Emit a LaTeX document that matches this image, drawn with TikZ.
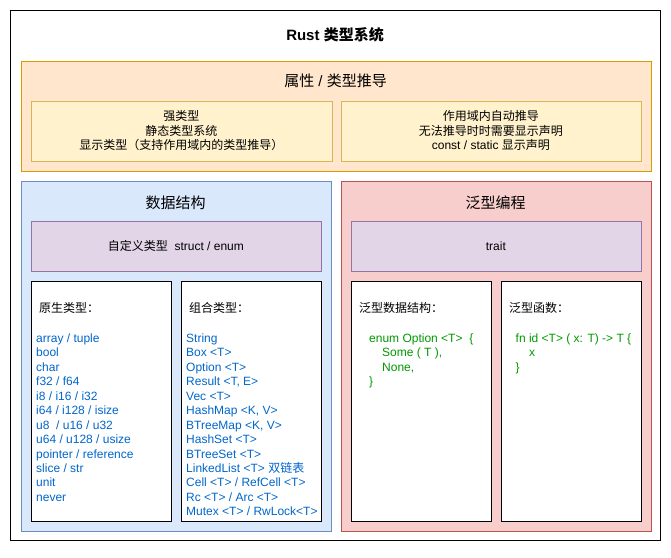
\documentclass[tikz,border=0pt]{standalone}
\usepackage{fontspec}
\setmainfont{Liberation Sans}
\newfontfamily\cjk{Noto Sans CJK SC}
\newcommand{\zh}[1]{{\cjk #1}}
\usetikzlibrary{positioning}
\definecolor{attrfill}{HTML}{FFE6CC}
\definecolor{attrline}{HTML}{D79B00}
\definecolor{notefill}{HTML}{FFF2CC}
\definecolor{noteline}{HTML}{D6B656}
\definecolor{datafill}{HTML}{DAE8FC}
\definecolor{dataline}{HTML}{6C8EBF}
\definecolor{genfill}{HTML}{F8CECC}
\definecolor{genline}{HTML}{B85450}
\definecolor{kindfill}{HTML}{E1D5E7}
\definecolor{kindline}{HTML}{9673A6}
\definecolor{typeblue}{HTML}{0066CC}
\definecolor{codegreen}{HTML}{009900}
\tikzset{box/.style={draw,rectangle,inner sep=0pt,anchor=north west,line width=0.8pt}}
\tikzset{txt/.style={inner sep=0pt,font=\fontsize{12}{14.45}\selectfont}}
\tikzset{head/.style={inner sep=0pt,font=\fontsize{15}{18}\selectfont}}
\tikzset{list/.style={txt,align=left,anchor=north west,text=typeblue}}
\tikzset{code/.style={txt,align=left,anchor=north west,text=codegreen}}

\begin{document}
\begin{tikzpicture}[x=1pt,y=-1pt]
\useasboundingbox (0,0) rectangle (671,557);

\node[box,line width=1pt,minimum width=650pt,minimum height=530pt] (frame) at (10,10) {};
\node[head,font=\bfseries\fontsize{15}{18}\selectfont] (title) at (335,34.5) {Rust \zh{类型系统}};

% attributes
\node[box,fill=attrfill,draw=attrline,minimum width=630pt,minimum height=110pt] (attr) at (20.5,60.5) {};
\node[head] (attrtitle) at (335.5,81) {\zh{属性} / \zh{类型推导}};
\node[box,fill=notefill,draw=noteline,minimum width=301pt,minimum height=60pt] (strong) at (30.5,100.5) {};
\node[box,fill=notefill,draw=noteline,minimum width=300pt,minimum height=60pt] (infer) at (340.5,100.5) {};
\node[txt,align=center] (strongtxt) at (strong.center) {\zh{强类型}\\\zh{静态类型系统}\\\zh{显示类型（支持作用域内的类型推导）}};
\node[txt,align=center] (infertxt) at (infer.center) {\zh{作用域内自动推导}\\\zh{无法推导时时需要显示声明}\\const / static \zh{显示声明}};

% data structures
\node[box,fill=datafill,draw=dataline,minimum width=310pt,minimum height=350pt] (data) at (20.5,180.5) {};
\node[head] (datatitle) at (175.5,203) {\zh{数据结构}};
\node[box,fill=kindfill,draw=kindline,minimum width=290pt,minimum height=50pt] (custom) at (30.5,220.5) {};
\node[txt] (customtxt) at (custom.center) {\zh{自定义类型}\ \ struct / enum};
\node[box,fill=white,draw=black,minimum width=140pt,minimum height=240pt] (prim) at (30.5,280.5) {};
\node[box,fill=white,draw=black,minimum width=140pt,minimum height=240pt] (comp) at (180.5,280.5) {};
\node[txt,anchor=west] (primtitle) at (39,308) {\zh{原生类型：}};
\node[txt,anchor=west] (comptitle) at (189,308) {\zh{组合类型：}};
\node[list] (primlist) at (36,333.5) {array / tuple\\bool\\char\\f32 / f64\\i8 / i16 / i32\\i64 / i128 / isize\\u8\ \ / u16 / u32\\u64 / u128 / usize\\pointer / reference\\slice / str\\unit\\never};
\node[list] (complist) at (186,333.5) {String\\Box <T>\\Option <T>\\Result <T, E>\\Vec <T>\\HashMap <K, V>\\BTreeMap <K, V>\\HashSet <T>\\BTreeSet <T>\\LinkedList <T> \zh{双链表}\\Cell <T> / RefCell <T>\\Rc <T> / Arc <T>\\Mutex <T> / RwLock<T>};

% generics
\node[box,fill=genfill,draw=genline,minimum width=310pt,minimum height=350pt] (gen) at (340.5,180.5) {};
\node[head] (gentitle) at (495.5,203) {\zh{泛型编程}};
\node[box,fill=kindfill,draw=kindline,minimum width=290pt,minimum height=50pt] (trait) at (350.5,220.5) {};
\node[txt] (traittxt) at (trait.center) {trait};
\node[box,fill=white,draw=black,minimum width=140pt,minimum height=240pt] (gdata) at (350.5,280.5) {};
\node[box,fill=white,draw=black,minimum width=140pt,minimum height=240pt] (gfunc) at (500.5,280.5) {};
\node[txt,anchor=west] (gdatatitle) at (359,307.5) {\zh{泛型数据结构：}};
\node[txt,anchor=west] (gfunctitle) at (509,307.5) {\zh{泛型函数：}};
\node[code] (gdatacode) at (369,333.5) {enum Option <T>\ \ \{\\\hspace*{13pt}Some ( T ),\\\hspace*{13pt}None,\\\}};
\node[code] (gfunccode) at (515.5,333.5) {fn id <T> ( x: T) -> T \{\\\hspace*{13.5pt}x\\\}};
\end{tikzpicture}
\end{document}
